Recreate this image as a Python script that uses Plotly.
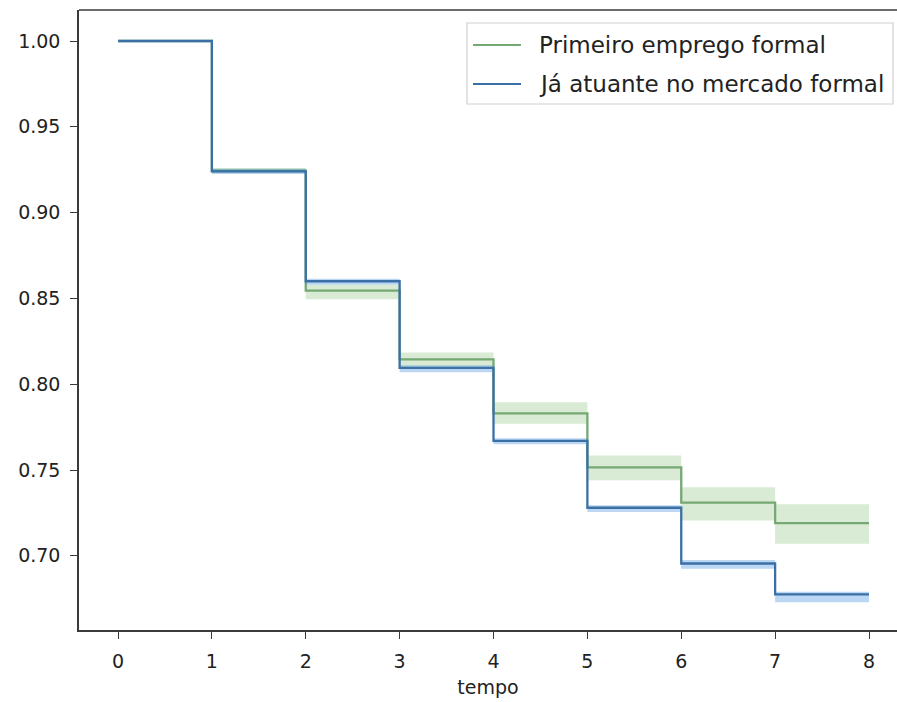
import plotly.graph_objects as go

# ---- data ----
tempo = [0, 1, 2, 3, 4, 5, 6, 7, 8]

serie_nomes = ["Primeiro emprego formal", "Já atuante no mercado formal"]

surv_primeiro = [1.000, 0.9245, 0.8545, 0.8145, 0.7830, 0.7515, 0.7310, 0.7190, 0.7190]
ci_lo_primeiro = [1.000, 0.9230, 0.8495, 0.8100, 0.7770, 0.7440, 0.7205, 0.7070, 0.7070]
ci_hi_primeiro = [1.000, 0.9260, 0.8580, 0.8185, 0.7895, 0.7585, 0.7400, 0.7300, 0.7300]

surv_atuante = [1.000, 0.9240, 0.8600, 0.8095, 0.7670, 0.7280, 0.6955, 0.6775, 0.6775]
ci_lo_atuante = [1.000, 0.9225, 0.8580, 0.8070, 0.7650, 0.7255, 0.6925, 0.6730, 0.6730]
ci_hi_atuante = [1.000, 0.9255, 0.8615, 0.8110, 0.7685, 0.7295, 0.6975, 0.6790, 0.6790]

x_ticks = [0, 1, 2, 3, 4, 5, 6, 7, 8]
y_ticks = [0.70, 0.75, 0.80, 0.85, 0.90, 0.95, 1.00]

# ---- styles ----
FONT = "DejaVu Sans"
FS = 19
FS_LEG = 23
green_line = "#74a874"
green_fill = "rgba(118,182,104,0.28)"
blue_line = "#3a70a6"
blue_fill = "rgba(60,140,220,0.35)"

fig = go.Figure()

def add_series(x, s, lo, hi, line_col, fill_col, name):
    fig.add_trace(go.Scatter(x=x, y=lo, mode="lines", line=dict(width=0, shape="hv"),
                             showlegend=False, hoverinfo="skip"))
    fig.add_trace(go.Scatter(x=x, y=hi, mode="lines", line=dict(width=0, shape="hv"),
                             fill="tonexty", fillcolor=fill_col, showlegend=False, hoverinfo="skip"))
    fig.add_trace(go.Scatter(x=x, y=s, mode="lines", name=name,
                             line=dict(color=line_col, width=2.3, shape="hv"), showlegend=False))

add_series(tempo, surv_primeiro, ci_lo_primeiro, ci_hi_primeiro, green_line, green_fill, serie_nomes[0])
add_series(tempo, surv_atuante, ci_lo_atuante, ci_hi_atuante, blue_line, blue_fill, serie_nomes[1])

W, H = 897, 702
ML, MT, MB, MR = 79, 10, 72, 0
pw = W - ML - MR
ph = H - MT - MB

# manual legend (paper coordinates)
def px_x(p):
    return (p - ML) / pw

def px_y(p):
    return (H - MB - p) / ph

shapes = [
    # top spine (right side cut off in the reference)
    dict(type="line", xref="paper", yref="paper", x0=0, x1=1, y0=1, y1=1,
         line=dict(color="#3a3a3a", width=1.5)),
    dict(type="rect", xref="paper", yref="paper",
         x0=px_x(467), x1=px_x(893), y0=px_y(104), y1=px_y(23),
         line=dict(color="#d0d0d0", width=1.2), fillcolor="rgba(255,255,255,0.85)", layer="above"),
]
annotations = []
legend_rows = [(serie_nomes[0], green_line, 45), (serie_nomes[1], blue_line, 84)]
for name, col, yc in legend_rows:
    shapes.append(dict(type="line", xref="paper", yref="paper",
                       x0=px_x(473), x1=px_x(521), y0=px_y(yc), y1=px_y(yc),
                       line=dict(color=col, width=2), layer="above"))
    annotations.append(dict(xref="paper", yref="paper", x=px_x(537), y=px_y(yc),
                            xanchor="left", yanchor="middle", showarrow=False,
                            text=name, font=dict(family=FONT, size=FS_LEG, color="#222")))

x0_px, x8_px = 118, 869
upx = (x8_px - x0_px) / 8.0
xr0 = 0 - (x0_px - ML) / upx
xr1 = xr0 + pw / upx

y1_px = 41
upy = 85.8 / 0.05
yr1 = 1.0 + (y1_px - MT) / upy
yr0 = yr1 - ph / upy

fig.update_layout(
    width=W, height=H,
    margin=dict(l=ML, r=MR, t=MT, b=MB, pad=0),
    paper_bgcolor="white", plot_bgcolor="white",
    font=dict(family=FONT, size=FS, color="#222"),
    shapes=shapes, annotations=annotations,
    showlegend=False,
    xaxis=dict(range=[xr0, xr1], tickvals=x_ticks, ticktext=[str(v) for v in x_ticks],
               showgrid=False, zeroline=False, showline=True, linecolor="#3a3a3a", linewidth=1.5,
               ticks="outside", ticklen=7, tickwidth=1.3, tickcolor="#3a3a3a",
               ticklabelstandoff=6,
               title=dict(text="tempo", font=dict(family=FONT, size=FS, color="#222"), standoff=10)),
    yaxis=dict(range=[yr0, yr1], tickvals=y_ticks, ticktext=[f"{v:.2f}" for v in y_ticks],
               showgrid=False, zeroline=False, showline=True, linecolor="#3a3a3a", linewidth=1.5,
               ticks="outside", ticklen=7, tickwidth=1.3, tickcolor="#3a3a3a",
               ticklabelstandoff=6),
)

fig.write_html("out.html")
